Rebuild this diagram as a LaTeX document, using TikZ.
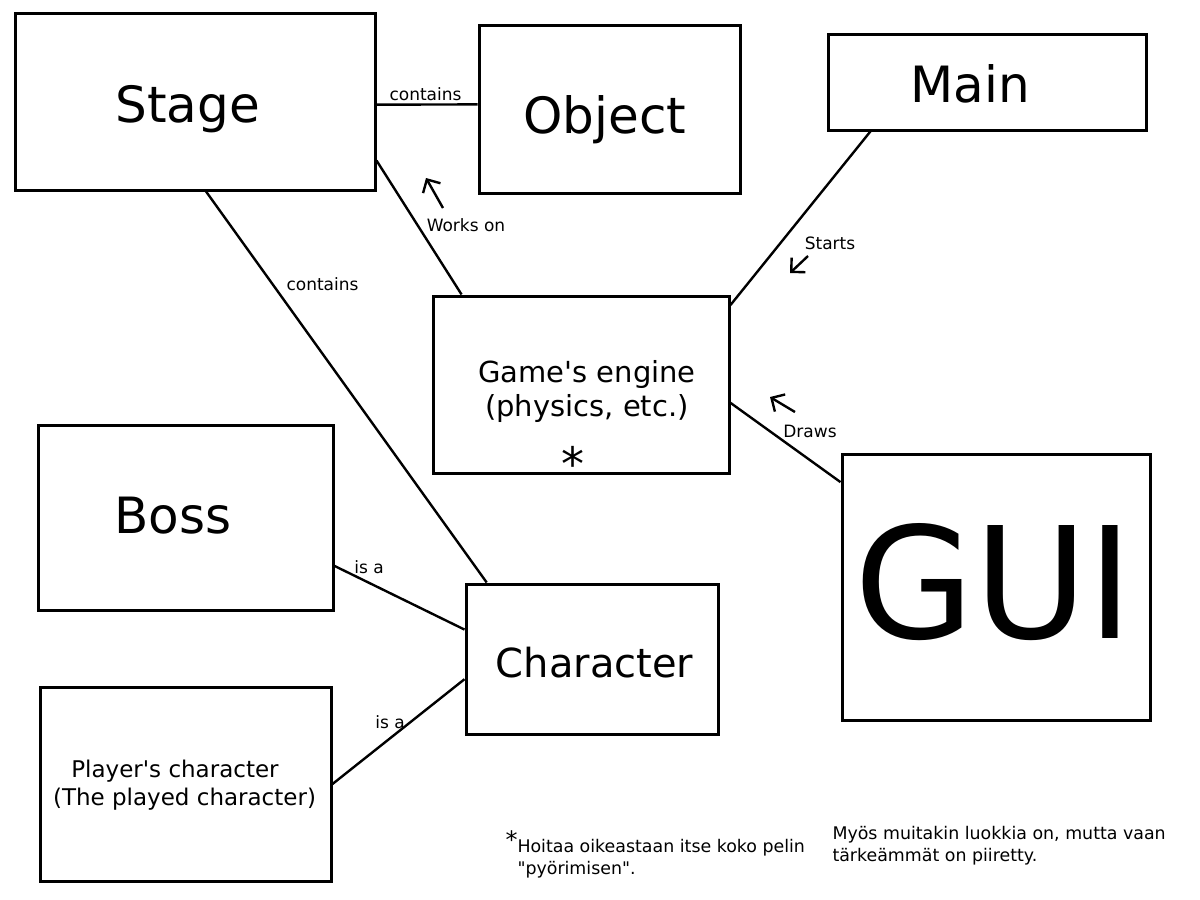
\documentclass[tikz,border=0pt]{standalone}
\usepackage{fontspec}
\setmainfont{DejaVu Sans}[Ligatures=TeXOff]
\usetikzlibrary{arrows.meta}
\tikzset{
	every path/.style = {line width=2.4pt},
	box/.style = {draw, rectangle, line width=3pt, inner sep=0pt},
	classname/.style = {inner sep=0pt, anchor=base, font=\fontsize{50}{60}\selectfont},
	relation/.style = {inner sep=0pt, anchor=base, font=\fontsize{17}{20}\selectfont},
	note/.style = {inner sep=0pt, anchor=north west, align=left, font=\fontsize{17.4}{21.5}\selectfont},
	hint/.style = {-{Straight Barb[length=10pt,width=20pt]}}
}

\begin{document}
\begin{tikzpicture}[x=1pt, y=-1pt]
	\useasboundingbox (0,0) rectangle (1200,900);
	% classes
	\node[box, minimum width=360pt, minimum height=177pt] (stage) at (195,101.5) {};
	\node[box, minimum width=261pt, minimum height=168pt] (object) at (609.5,109) {};
	\node[box, minimum width=318pt, minimum height=96pt] (main) at (987,82) {};
	\node[box, minimum width=296pt, minimum height=177pt] (engine) at (581,384.5) {};
	\node[box, minimum width=295pt, minimum height=185pt] (boss) at (185.5,517.5) {};
	\node[box, minimum width=252pt, minimum height=150pt] (character) at (592,659) {};
	\node[box, minimum width=291pt, minimum height=194pt] (player) at (185.5,784) {};
	\node[box, minimum width=308pt, minimum height=266pt] (gui) at (996,587) {};
	\node[classname] (stagetext) at (187.5,122) {Stage};
	\node[classname] (objecttext) at (605,133) {Object};
	\node[classname] (maintext) at (970,102) {Main};
	\node[classname] (bosstext) at (173,533) {Boss};
	\node[classname, font=\fontsize{40}{48}\selectfont] (charactertext) at (594.5,677) {Character};
	\node[classname, font=\fontsize{155}{155}\selectfont] (guitext) at (994,638) {GUI};
	\node[inner sep=0pt, align=center, font=\fontsize{29}{34}\selectfont] (enginetext) at (587,391.5) {Game's engine\\(physics, etc.)};
	\node[classname, font=\fontsize{46}{46}\selectfont] (enginestar) at (573,480) {*};
	\node[inner sep=0pt, align=center, font=\fontsize{23}{28}\selectfont] (playertext) at (184.5,785) {Player's character\hspace*{19pt}\\(The played character)};
	% relations
	\draw (stage.-1.1) -- (object.178.2);
	\draw (stage.-18.7) -- (engine.143.3);
	\draw (stage.-83) -- (character.144.9);
	\draw (main.-157.9) -- (engine.28.5);
	\draw (engine.-7.1) -- (gui.146.7);
	\draw (boss.-18.2) -- (character.167.9);
	\draw (player.east) -- (character.189.9);
	\node[relation] (containsobject) at (425.5,100) {contains};
	\node[relation] (workson) at (466,231) {Works on};
	\node[relation] (starts) at (830,249) {Starts};
	\node[relation] (draws) at (810,437) {Draws};
	\node[relation] (containscharacter) at (322.5,290) {contains};
	\node[relation] (bossisa) at (369,573) {is a};
	\node[relation] (playerisa) at (390,728) {is a};
	% direction hints
	\coordinate (worksfrom) at (443,208);
	\coordinate (worksto) at (426,178);
	\coordinate (startsfrom) at (808,256);
	\coordinate (startsto) at (790,273);
	\coordinate (drawsfrom) at (795,412);
	\coordinate (drawsto) at (770,397);
	\draw[hint] (worksfrom) -- (worksto);
	\draw[hint] (startsfrom) -- (startsto);
	\draw[hint] (drawsfrom) -- (drawsto);
	% notes
	\node[note] (enginenote) at (516.3,838.5) {\llap{\smash{\raisebox{4pt}{\fontsize{24}{24}\selectfont *}}}Hoitaa oikeastaan itse koko pelin\\"pyörimisen".};
	\node[note] (classnote) at (831.3,825.2) {Myös muitakin luokkia on, mutta vaan\\tärkeämmät on piiretty.};
\end{tikzpicture}
\end{document}
